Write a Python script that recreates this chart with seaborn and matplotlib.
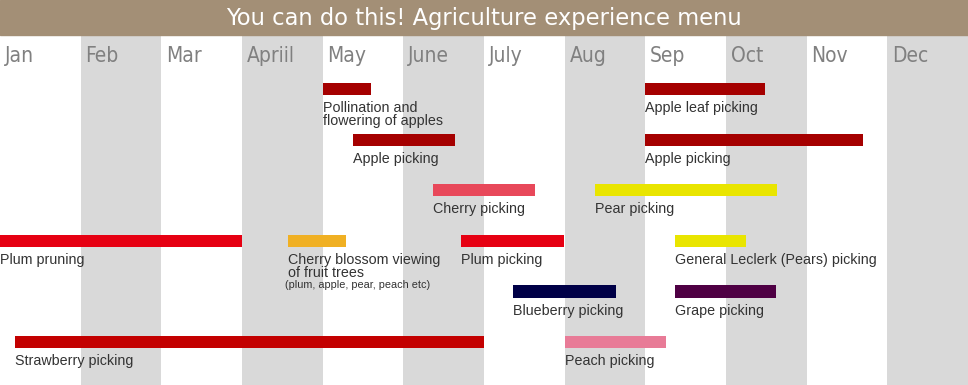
import numpy as np
import pandas as pd
import seaborn as sns
from matplotlib import pyplot as plt

months = ['Jan', 'Feb', 'Mar', 'Apriil', 'May', 'June', 'July', 'Aug', 'Sep', 'Oct', 'Nov', 'Dec']

# activities: lane, start / end (in months from 1 Jan)
activity = ['Pollination and\nflowering of apples', 'Apple leaf picking',
            'Apple picking', 'Apple picking',
            'Cherry picking', 'Pear picking',
            'Plum pruning', 'Cherry blossom viewing\nof fruit trees', 'Plum picking',
            'General Leclerk (Pears) picking',
            'Blueberry picking', 'Grape picking',
            'Strawberry picking', 'Peach picking']
lane = [0, 0, 1, 1, 2, 2, 3, 3, 3, 3, 4, 4, 5, 5]
start = [4.0, 8.0, 4.37, 8.0, 5.37, 7.38, 0.0, 3.57, 5.71, 8.37, 6.36, 8.37, 0.19, 7.0]
end = [4.6, 9.48, 5.64, 10.7, 6.63, 9.63, 3.0, 4.29, 6.99, 9.25, 7.64, 9.62, 6.0, 8.26]
note = '(plum, apple, pear, peach etc)'

colors = ['#a50000', '#a50000', '#a50000', '#a50000', '#e8485a', '#e9e500',
          '#e60012', '#f0b023', '#e60012', '#e9e500', '#000047', '#4f0044',
          '#c30000', '#e87b97']

df = pd.DataFrame({'activity': activity, 'lane': lane, 'start': start, 'end': end})
df['length'] = df['end'] - df['start']

sns.set_theme(style='white')
plt.rcParams['font.family'] = ['Liberation Sans', 'DejaVu Sans']

fig = plt.figure(figsize=(9.68, 3.85), dpi=100)
ax = fig.add_axes([0, 0, 1, 350 / 385])

# month columns
for i in range(12):
    if i % 2 == 1:
        ax.axvspan(i, i + 1, color='#d9d9d9', lw=0, zorder=0)
    ax.text(i + 0.06, -0.65, months[i], ha='left', va='center', fontsize=15,
            color='#808080', family=['DejaVu Sans'], fontstretch='condensed')

ax.barh(df['lane'], df['length'], left=df['start'], height=0.24,
        color=colors, linewidth=0, zorder=2)

for _, r in df.iterrows():
    ax.text(r['start'], r['lane'] + 0.24, r['activity'], ha='left', va='top',
            fontsize=10.3, color='#333333', linespacing=0.92, zorder=3)

cb = df[df['activity'].str.startswith('Cherry blossom')].iloc[0]
ax.text(cb['start'] - 0.04, cb['lane'] + 0.77, note, ha='left', va='top',
        fontsize=7.8, color='#333333', zorder=3)

ax.set_xlim(0, 12)
ax.set_ylim(5.85, -1.07)
ax.axis('off')

# title band
fig.patches.append(plt.Rectangle((0, 350 / 385), 1, 35 / 385, transform=fig.transFigure,
                                 color='#a38f76', zorder=0))
fig.text(0.5, 1 - 18 / 385, 'You can do this! Agriculture experience menu',
         ha='center', va='center', color='white', fontsize=16.3,
         family=['DejaVu Sans'])

fig.savefig('out.png', dpi=100)
